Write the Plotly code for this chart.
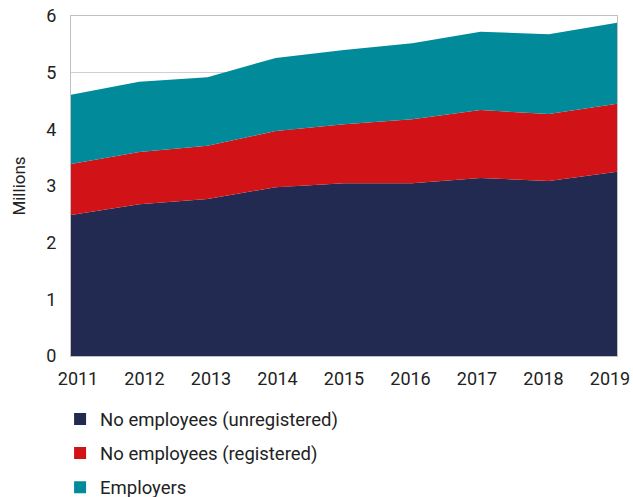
import plotly.graph_objects as go

years = [2011, 2012, 2013, 2014, 2015, 2016, 2017, 2018, 2019]
# Self-employed, millions
no_emp_unregistered = [2.49, 2.68, 2.77, 2.98, 3.05, 3.05, 3.14, 3.09, 3.25]
no_emp_registered = [0.90, 0.92, 0.94, 0.99, 1.04, 1.13, 1.20, 1.18, 1.20]
employers = [1.22, 1.24, 1.21, 1.29, 1.31, 1.34, 1.38, 1.41, 1.43]

series = [
    ("No employees (unregistered)", no_emp_unregistered, "#222a52"),
    ("No employees (registered)", no_emp_registered, "#d11317"),
    ("Employers", employers, "#008a9a"),
]

FONT = "Roboto"
TEXT = "#222222"

fig = go.Figure()
for name, vals, color in series:
    fig.add_trace(go.Scatter(
        x=years, y=vals, name=name, stackgroup="one", mode="none",
        fillcolor=color, line=dict(width=0), showlegend=False,
        hoverinfo="x+y+name",
    ))

# Year labels sit on a slightly wider companion axis so the end labels stay inside
fig.add_trace(go.Scatter(
    x=years, y=[None] * len(years), xaxis="x2", mode="markers",
    showlegend=False, hoverinfo="skip",
))

# Square legend keys, one group each so the rows can be spaced apart
for i, (name, vals, color) in enumerate(series):
    fig.add_trace(go.Scatter(
        x=[None], y=[None], name=name, mode="markers",
        marker=dict(symbol="square", size=15, color=color),
        legendgroup=f"g{i}", showlegend=True,
    ))

pad = 0.1053
fig.update_layout(
    width=633, height=497,
    margin=dict(l=71, r=16, t=16, b=141, autoexpand=False),
    paper_bgcolor="white", plot_bgcolor="white",
    font=dict(family=FONT, size=17, color=TEXT),
    legend=dict(
        x=-0.02, y=-0.131, xanchor="left", yanchor="top",
        orientation="v", font=dict(size=18.5, color=TEXT),
        itemsizing="constant", traceorder="grouped", tracegroupgap=7,
        bgcolor="rgba(0,0,0,0)",
    ),
    xaxis=dict(
        range=[2011, 2019], showticklabels=False, showgrid=False,
        showline=True, linecolor="#c0c0c0", mirror=True, ticks="",
        zeroline=False, automargin=False,
    ),
    xaxis2=dict(
        range=[2011 - pad, 2019 + pad], overlaying="x", anchor="y", side="bottom",
        tickmode="array", tickvals=years, ticktext=[str(y) for y in years],
        showgrid=False, showline=False, ticks="", zeroline=False,
        tickfont=dict(size=18), automargin=False, ticklabelstandoff=10,
    ),
    yaxis=dict(
        range=[0, 6], dtick=1, showgrid=True, gridcolor="#d0d0d0",
        showline=True, linecolor="#c0c0c0", mirror=True, ticks="",
        tickfont=dict(size=18), zeroline=False, automargin=False,
        ticklabelstandoff=10,
        title=dict(text="Millions", font=dict(size=17), standoff=16),
    ),
)

fig.write_html("out.html")
